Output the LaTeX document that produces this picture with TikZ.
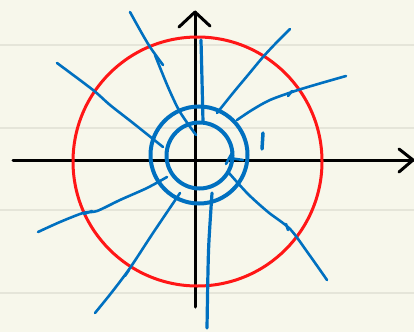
\documentclass[tikz,border=0pt]{standalone}
\definecolor{bg}{RGB}{247,247,235}
\definecolor{rulecol}{RGB}{229,229,217}
\definecolor{pen}{RGB}{0,112,192}
\definecolor{redpen}{RGB}{255,22,22}
\begin{document}
\begin{tikzpicture}[x=1pt,y=-1pt,
  field/.style={pen, line width=2.6pt, line cap=round, line join=round},
  ring/.style={pen, line width=4pt},
  axis/.style={black, line width=3pt, line cap=round, line join=round},
  notebook/.style={rulecol, line width=2pt}]
\fill[bg] (0,0) rectangle (414,332);
\useasboundingbox (0,0) rectangle (414,332);
\foreach \yy in {45,128,210,293} \draw[notebook] (0,\yy) -- (414,\yy);
% axes
\coordinate (xl) at (13,160); \coordinate (xr) at (413,160);
\coordinate (yb) at (195,307); \coordinate (yt) at (195,12);
\draw[axis] (xl) -- (xr);
\draw[axis] (yb) -- (yt);
\draw[axis] (399,149) -- (xr) -- (399,172);
\draw[axis] (179,27) -- (yt) -- (210,26);
% red circle
\draw[redpen, line width=3pt] (197.5,161.5) circle[radius=124.5pt];
% field lines
\draw[field] plot[smooth] coordinates {(130,12) (140,30) (150,47) (163,65)};
\draw[field] plot[smooth] coordinates {(155,55) (168,87) (180,112) (196,135)};
\draw[field, line width=3.2pt] plot[smooth] coordinates {(201,40) (202,80) (203,122)};
\draw[field] plot[smooth] coordinates {(290,29) (277,42) (263,57) (248,75) (233,93) (217,113)};
\draw[field] plot[smooth] coordinates {(346,76) (318,84) (295,91) (270,100) (252,110) (237,120)};
\draw[field] plot[smooth] coordinates {(57,63) (93,90) (110,105) (133,123) (163,147)};
\draw[field] plot[smooth] coordinates {(38,232) (60,222) (83,213) (97,211) (120,200) (147,188) (167,177)};
\draw[field] plot[smooth] coordinates {(95,313) (112,292) (130,268) (153,233) (180,193)};
\draw[field, line width=3.2pt] plot[smooth] coordinates {(212,193) (209,240) (208,270) (207,328)};
\draw[field] plot[smooth] coordinates {(229,173) (248,194) (268,212) (290,229) (308,253) (327,280)};
% small hand marks
\draw[field] (288,96) -- (292,91);
\draw[field] (125,276) -- (129,270);
\draw[field] (84,214) -- (92,211);
\draw[field] (286,224) -- (288,230);
% blue circles
\draw[ring] (199.5,155.5) circle[radius=33pt];
\draw[ring] (199,155) circle[radius=48.5pt];
% marks
\draw[field, line width=3.5pt] (263,133) -- (262,149);
\draw[field] (233,151) -- (226,164);
\draw[field] (229,158) -- (243,160);
\end{tikzpicture}
\end{document}
